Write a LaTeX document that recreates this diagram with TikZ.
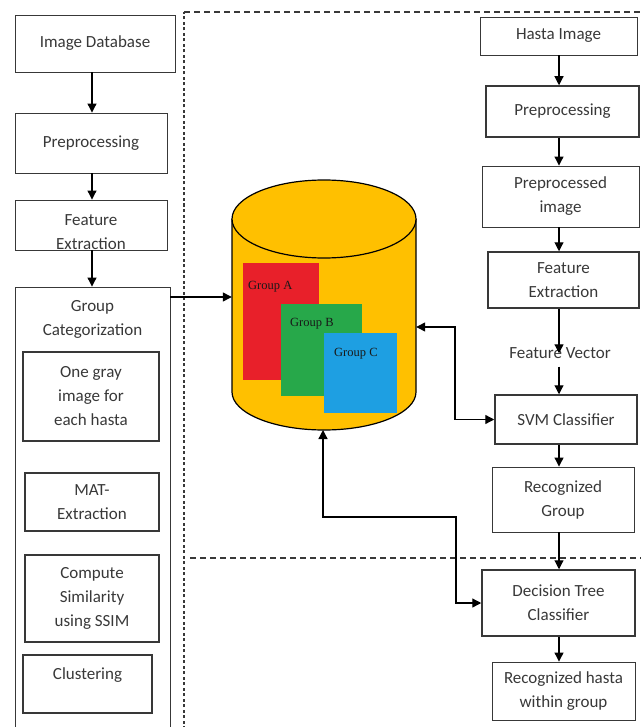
\documentclass[tikz,border=0pt]{standalone}
\usepackage{fontspec}
\setmainfont{Carlito}
\newfontfamily\grpfont{Liberation Serif}
\usetikzlibrary{arrows.meta}
\definecolor{gold}{HTML}{FFC000}
\definecolor{gred}{HTML}{E8202A}
\definecolor{ggreen}{HTML}{27A84A}
\definecolor{gblue}{HTML}{1E9FE2}
\definecolor{ink}{HTML}{383838}
\begin{document}
\begin{tikzpicture}[x=1pt,y=-1pt,
  box/.style={draw=ink, line width=0.9pt, inner sep=0pt, align=center, text=ink,
    font=\fontsize{17}{24}\selectfont},
  boxthick/.style={box, line width=1.5pt},
  txt/.style={inner sep=0pt, align=center, text=ink, font=\fontsize{17}{24}\selectfont},
  arr/.style={draw=black, line width=1.1pt, -{Triangle[width=9pt,length=9pt]}},
  both/.style={draw=black, line width=1.3pt, {Triangle[width=9pt,length=9pt]}-{Triangle[width=9pt,length=9pt]}},
  dashv/.style={draw=ink, line width=1.3pt, dash pattern=on 3pt off 2.5pt},
  dashh/.style={draw=ink, line width=1.1pt, dash pattern=on 6pt off 4pt},
  grplabel/.style={inner sep=0pt, anchor=north west, text=black!90, font=\grpfont\fontsize{12.5}{14}\selectfont}]
\useasboundingbox (0,0) rectangle (640,727);

% dashed region borders
\draw[dashv] (184,740) -- (184,12);
\draw[dashh] (184,12) -- (645,12);
\draw[dashh] (190,558) -- (645,558);

% left column
\node[box, minimum width=160pt, minimum height=57pt] (imgdb) at (95,43.5) {Image Database};
\node[box, minimum width=152pt, minimum height=60pt] (lpre) at (91,143) {Preprocessing};
\node[box, minimum width=152pt, minimum height=50pt] (lfe) at (91,225) {};
\node[txt] (lfet) at (91,232) {Feature\\Extraction};
\node[box, minimum width=155pt, minimum height=460pt] (grp) at (92.5,517) {};
\node[txt] (grpt) at (92.5,319) {Group\\Categorization};
\node[box, line width=1.3pt, minimum width=136pt, minimum height=89pt] (gray) at (91,396.5) {One gray\\image for\\each hasta};
\node[box, line width=1.3pt, minimum width=134pt, minimum height=58pt] (mat) at (92,502) {MAT-\\Extraction};
\node[box, line width=1.3pt, minimum width=134pt, minimum height=87pt] (sim) at (92,598.5) {Compute\\Similarity\\using SSIM};
\node[box, line width=1.3pt, minimum width=129pt, minimum height=58pt] (clu) at (87.5,684) {};
\node[txt] (clut) at (87.5,675) {Clustering};

\coordinate (lx) at (92,0);
\draw[arr] (imgdb.south -| lx) -- (lpre.north -| lx);
\draw[arr] (lpre.south -| lx) -- (lfe.north -| lx);
\draw[arr] (lfe.south -| lx) -- (grp.north -| lx);

% database cylinder
\fill[gold] (232,219) -- (232,392) arc[start angle=180, end angle=360, x radius=92pt, y radius=38pt] -- (416,219) -- cycle;
\fill[gred] (243,263) rectangle (319,380);
\fill[ggreen] (281,304) rectangle (362,396);
\fill[gblue] (324,333) rectangle (397,413);
\draw[black, line width=1.2pt] (232,219) -- (232,392) arc[start angle=180, end angle=360, x radius=92pt, y radius=38pt] -- (416,219);
\draw[black, line width=1.2pt, fill=gold] (324,219) ellipse[x radius=92pt, y radius=39pt];
\node[grplabel] (ga) at (248,281) {Group A};
\node[grplabel] (gb) at (290,318) {Group B};
\node[grplabel] (gc) at (334,348) {Group C};
\node[inner sep=0pt, minimum width=184pt, minimum height=173pt] (db) at (324,305.5) {};
\coordinate (dbbot) at (323,430);

% right column
\node[box, minimum width=157pt, minimum height=38pt] (hasta) at (558.5,36) {Hasta Image};
\node[boxthick, minimum width=153pt, minimum height=51pt] (rpre) at (562.5,111.5) {Preprocessing};
\node[box, minimum width=157pt, minimum height=61pt] (ppi) at (560.5,196.5) {Preprocessed\\image};
\node[boxthick, minimum width=151pt, minimum height=56pt] (rfe) at (563.5,280) {Feature\\Extraction};
\node[txt] (fv) at (560,353) {Feature Vector};
\node[boxthick, minimum width=142pt, minimum height=49pt] (svm) at (566,419.5) {SVM Classifier};
\node[box, minimum width=142pt, minimum height=65pt] (rg) at (563,499.5) {Recognized\\Group};
\node[boxthick, minimum width=153pt, minimum height=66pt] (dt) at (558.5,603) {Decision Tree\\Classifier};
\node[box, minimum width=143pt, minimum height=58pt] (rh) at (563.5,691) {Recognized hasta\\within group};

\coordinate (rx) at (559,0);
\draw[arr] (hasta.south -| rx) -- (rpre.north -| rx);
\draw[arr] (rpre.south -| rx) -- (ppi.north -| rx);
\draw[arr] (ppi.south -| rx) -- (rfe.north -| rx);
\draw[arr] (rfe.south -| rx) -- ([yshift=-6pt]fv.north -| rx);
\draw[arr] ([yshift=-8pt]fv.south -| rx) -- (svm.north -| rx);
\draw[arr] (svm.south -| rx) -- (rg.north -| rx);
\draw[arr] (rg.south -| rx) -- (dt.north -| rx);
\draw[arr] (dt.south -| rx) -- (rh.north -| rx);

% connectors with database
\coordinate (gy) at (0,297);
\draw[arr, line width=1.3pt] (grp.east |- gy) -- (db.west |- gy);
\coordinate (j1) at (455,327);
\draw[both] (db.east |- j1) -- (j1) |- (svm.west);
\coordinate (j2) at (323,517);
\coordinate (j3) at (456,517);
\draw[both] (dbbot) -- (j2) -- (j3) |- (dt.west);
\end{tikzpicture}
\end{document}
